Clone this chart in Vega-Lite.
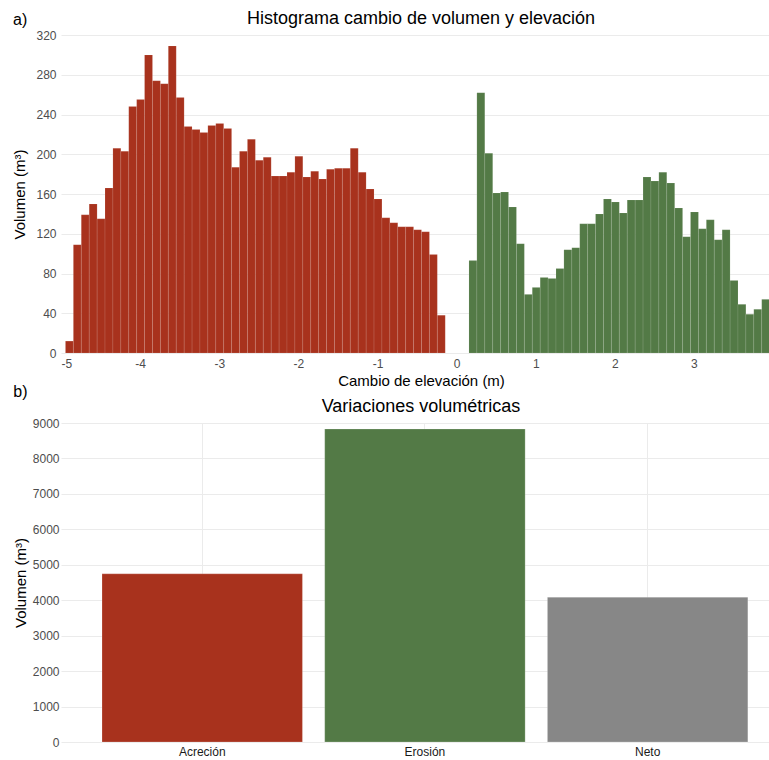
{
  "$schema": "https://vega.github.io/schema/vega-lite/v6.json",
  "padding": {"left": 12, "top": 10, "right": 0, "bottom": 0},
  "config": {
    "font": "Liberation Sans",
    "view": {"stroke": null},
    "axis": {"domain": false, "ticks": false, "gridColor": "#EBEBEB", "gridWidth": 1, "labelColor": "#4D4D4D", "labelFontSize": 12, "titleFontSize": 15, "titleFontWeight": "normal", "titleColor": "#000000", "labelPadding": 5, "titlePadding": 8},
    "title": {"fontSize": 18, "fontWeight": "normal", "color": "#000000"}
  },
  "resolve": {"scale": {"color": "independent"}},
  "datasets": {
    "hist": [
      {"x0": -4.95, "x1": -4.85, "vol": 12, "tipo": "neg"},
      {"x0": -4.85, "x1": -4.75, "vol": 109, "tipo": "neg"},
      {"x0": -4.75, "x1": -4.65, "vol": 139, "tipo": "neg"},
      {"x0": -4.65, "x1": -4.55, "vol": 150, "tipo": "neg"},
      {"x0": -4.55, "x1": -4.45, "vol": 135, "tipo": "neg"},
      {"x0": -4.45, "x1": -4.35, "vol": 166, "tipo": "neg"},
      {"x0": -4.35, "x1": -4.25, "vol": 206, "tipo": "neg"},
      {"x0": -4.25, "x1": -4.15, "vol": 203, "tipo": "neg"},
      {"x0": -4.15, "x1": -4.05, "vol": 248, "tipo": "neg"},
      {"x0": -4.05, "x1": -3.95, "vol": 255, "tipo": "neg"},
      {"x0": -3.95, "x1": -3.85, "vol": 300, "tipo": "neg"},
      {"x0": -3.85, "x1": -3.75, "vol": 274, "tipo": "neg"},
      {"x0": -3.75, "x1": -3.65, "vol": 271, "tipo": "neg"},
      {"x0": -3.65, "x1": -3.55, "vol": 309, "tipo": "neg"},
      {"x0": -3.55, "x1": -3.45, "vol": 257, "tipo": "neg"},
      {"x0": -3.45, "x1": -3.35, "vol": 228, "tipo": "neg"},
      {"x0": -3.35, "x1": -3.25, "vol": 225, "tipo": "neg"},
      {"x0": -3.25, "x1": -3.15, "vol": 222, "tipo": "neg"},
      {"x0": -3.15, "x1": -3.05, "vol": 229, "tipo": "neg"},
      {"x0": -3.05, "x1": -2.95, "vol": 231, "tipo": "neg"},
      {"x0": -2.95, "x1": -2.85, "vol": 226, "tipo": "neg"},
      {"x0": -2.85, "x1": -2.75, "vol": 187, "tipo": "neg"},
      {"x0": -2.75, "x1": -2.65, "vol": 203, "tipo": "neg"},
      {"x0": -2.65, "x1": -2.55, "vol": 215, "tipo": "neg"},
      {"x0": -2.55, "x1": -2.45, "vol": 194, "tipo": "neg"},
      {"x0": -2.45, "x1": -2.35, "vol": 197, "tipo": "neg"},
      {"x0": -2.35, "x1": -2.25, "vol": 178, "tipo": "neg"},
      {"x0": -2.25, "x1": -2.15, "vol": 178, "tipo": "neg"},
      {"x0": -2.15, "x1": -2.05, "vol": 182, "tipo": "neg"},
      {"x0": -2.05, "x1": -1.95, "vol": 198, "tipo": "neg"},
      {"x0": -1.95, "x1": -1.85, "vol": 177, "tipo": "neg"},
      {"x0": -1.85, "x1": -1.75, "vol": 183, "tipo": "neg"},
      {"x0": -1.75, "x1": -1.65, "vol": 175, "tipo": "neg"},
      {"x0": -1.65, "x1": -1.55, "vol": 185, "tipo": "neg"},
      {"x0": -1.55, "x1": -1.45, "vol": 186, "tipo": "neg"},
      {"x0": -1.45, "x1": -1.35, "vol": 186, "tipo": "neg"},
      {"x0": -1.35, "x1": -1.25, "vol": 206, "tipo": "neg"},
      {"x0": -1.25, "x1": -1.15, "vol": 182, "tipo": "neg"},
      {"x0": -1.15, "x1": -1.05, "vol": 165, "tipo": "neg"},
      {"x0": -1.05, "x1": -0.95, "vol": 155, "tipo": "neg"},
      {"x0": -0.95, "x1": -0.85, "vol": 136, "tipo": "neg"},
      {"x0": -0.85, "x1": -0.75, "vol": 131, "tipo": "neg"},
      {"x0": -0.75, "x1": -0.65, "vol": 127, "tipo": "neg"},
      {"x0": -0.65, "x1": -0.55, "vol": 127, "tipo": "neg"},
      {"x0": -0.55, "x1": -0.45, "vol": 124, "tipo": "neg"},
      {"x0": -0.45, "x1": -0.35, "vol": 122, "tipo": "neg"},
      {"x0": -0.35, "x1": -0.25, "vol": 99, "tipo": "neg"},
      {"x0": -0.25, "x1": -0.15, "vol": 38, "tipo": "neg"},
      {"x0": 0.15, "x1": 0.25, "vol": 93, "tipo": "pos"},
      {"x0": 0.25, "x1": 0.35, "vol": 262, "tipo": "pos"},
      {"x0": 0.35, "x1": 0.45, "vol": 201, "tipo": "pos"},
      {"x0": 0.45, "x1": 0.55, "vol": 161, "tipo": "pos"},
      {"x0": 0.55, "x1": 0.65, "vol": 162, "tipo": "pos"},
      {"x0": 0.65, "x1": 0.75, "vol": 147, "tipo": "pos"},
      {"x0": 0.75, "x1": 0.85, "vol": 110, "tipo": "pos"},
      {"x0": 0.85, "x1": 0.95, "vol": 59, "tipo": "pos"},
      {"x0": 0.95, "x1": 1.05, "vol": 66, "tipo": "pos"},
      {"x0": 1.05, "x1": 1.15, "vol": 76, "tipo": "pos"},
      {"x0": 1.15, "x1": 1.25, "vol": 75, "tipo": "pos"},
      {"x0": 1.25, "x1": 1.35, "vol": 85, "tipo": "pos"},
      {"x0": 1.35, "x1": 1.45, "vol": 104, "tipo": "pos"},
      {"x0": 1.45, "x1": 1.55, "vol": 106, "tipo": "pos"},
      {"x0": 1.55, "x1": 1.65, "vol": 130, "tipo": "pos"},
      {"x0": 1.65, "x1": 1.75, "vol": 130, "tipo": "pos"},
      {"x0": 1.75, "x1": 1.85, "vol": 140, "tipo": "pos"},
      {"x0": 1.85, "x1": 1.95, "vol": 155, "tipo": "pos"},
      {"x0": 1.95, "x1": 2.05, "vol": 152, "tipo": "pos"},
      {"x0": 2.05, "x1": 2.15, "vol": 141, "tipo": "pos"},
      {"x0": 2.15, "x1": 2.25, "vol": 154, "tipo": "pos"},
      {"x0": 2.25, "x1": 2.35, "vol": 154, "tipo": "pos"},
      {"x0": 2.35, "x1": 2.45, "vol": 177, "tipo": "pos"},
      {"x0": 2.45, "x1": 2.55, "vol": 173, "tipo": "pos"},
      {"x0": 2.55, "x1": 2.65, "vol": 182, "tipo": "pos"},
      {"x0": 2.65, "x1": 2.75, "vol": 171, "tipo": "pos"},
      {"x0": 2.75, "x1": 2.85, "vol": 146, "tipo": "pos"},
      {"x0": 2.85, "x1": 2.95, "vol": 117, "tipo": "pos"},
      {"x0": 2.95, "x1": 3.05, "vol": 142, "tipo": "pos"},
      {"x0": 3.05, "x1": 3.15, "vol": 125, "tipo": "pos"},
      {"x0": 3.15, "x1": 3.25, "vol": 134, "tipo": "pos"},
      {"x0": 3.25, "x1": 3.35, "vol": 114, "tipo": "pos"},
      {"x0": 3.35, "x1": 3.45, "vol": 124, "tipo": "pos"},
      {"x0": 3.45, "x1": 3.55, "vol": 73, "tipo": "pos"},
      {"x0": 3.55, "x1": 3.65, "vol": 49, "tipo": "pos"},
      {"x0": 3.65, "x1": 3.75, "vol": 39, "tipo": "pos"},
      {"x0": 3.75, "x1": 3.85, "vol": 44, "tipo": "pos"},
      {"x0": 3.85, "x1": 3.95, "vol": 54, "tipo": "pos"}
    ],
    "vol": [
      {"cat": "Acreción", "vol": 4745},
      {"cat": "Erosión", "vol": 8831},
      {"cat": "Neto", "vol": 4086}
    ]
  },
  "concat": [
    {
      "title": {"text": "a)", "anchor": "start", "frame": "bounds", "fontSize": 16, "dy": 22},
      "vconcat": [
        {
          "title": {"text": "Histograma cambio de volumen y elevación", "anchor": "middle", "frame": "group", "offset": 1},
          "width": 720,
          "height": 318,
          "data": {"name": "hist"},
          "mark": {"type": "bar", "binSpacing": 0, "stroke": "#FFFFFF", "strokeOpacity": 0.2, "strokeWidth": 0.5},
          "encoding": {
            "x": {"field": "x0", "type": "quantitative", "bin": "binned", "scale": {"domain": [-5, 4.1], "nice": false, "zero": false}, "axis": {"values": [-5, -4, -3, -2, -1, 0, 1, 2, 3], "labelExpr": "'' + datum.value", "title": "Cambio de elevación (m)", "titlePadding": 4}},
            "x2": {"field": "x1"},
            "y": {"field": "vol", "type": "quantitative", "stack": null, "scale": {"domain": [0, 320], "nice": false}, "axis": {"values": [0, 40, 80, 120, 160, 200, 240, 280, 320], "format": "d", "title": "Volumen (m³)", "titlePadding": 8}},
            "color": {"field": "tipo", "type": "nominal", "scale": {"domain": ["neg", "pos"], "range": ["#A8321D", "#537A46"]}, "legend": null}
          }
        }
      ]
    },
    {
      "title": {"text": "b)", "anchor": "start", "frame": "bounds", "fontSize": 16, "dy": 6},
      "vconcat": [
        {
          "title": {"text": "Variaciones volumétricas", "anchor": "middle", "frame": "group", "offset": 1},
          "width": 720,
          "height": 319,
          "data": {"name": "vol"},
          "mark": {"type": "bar", "stroke": "#FFFFFF", "strokeOpacity": 0.3, "strokeWidth": 0.7},
          "encoding": {
            "x": {"field": "cat", "type": "nominal", "sort": null, "scale": {"paddingInner": 0.1, "paddingOuter": 0.1665, "align": 0.553}, "axis": {"title": null, "labelAngle": 0, "grid": true, "bandPosition": 0.5, "labelColor": "#1A1A1A", "labelPadding": 4}},
            "y": {"field": "vol", "type": "quantitative", "scale": {"domain": [0, 9000], "nice": false}, "axis": {"values": [0, 1000, 2000, 3000, 4000, 5000, 6000, 7000, 8000, 9000], "format": "d", "title": "Volumen (m³)", "labelPadding": 2, "titlePadding": 4}},
            "color": {"field": "cat", "type": "nominal", "sort": null, "scale": {"domain": ["Acreción", "Erosión", "Neto"], "range": ["#A8321D", "#537A46", "#878787"]}, "legend": null}
          }
        }
      ]
    }
  ],
  "columns": 1,
  "align": "none",
  "spacing": -4
}
